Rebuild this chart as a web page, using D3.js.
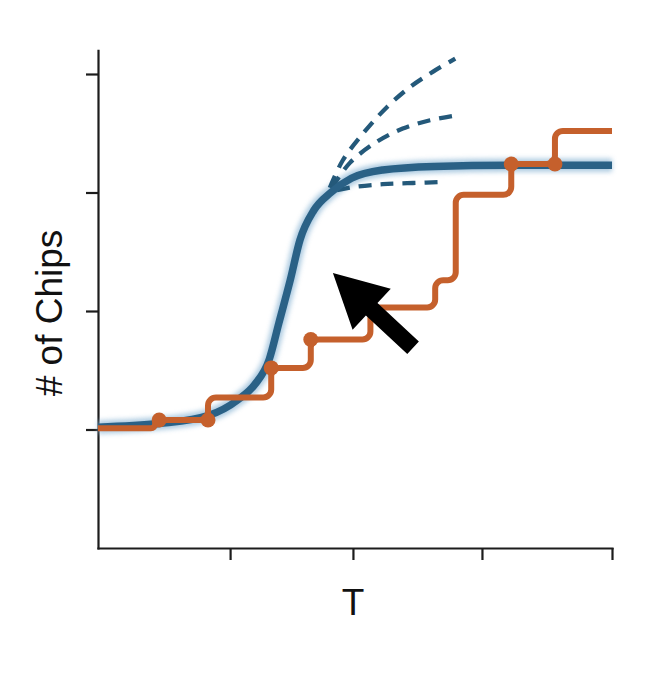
<!DOCTYPE html>
<html>
<head>
<meta charset="utf-8">
<script src="https://cdn.jsdelivr.net/npm/d3@7"></script>
<style>
  html, body { margin: 0; padding: 0; background: #fff; }
  svg { display: block; }
</style>
</head>
<body>
<script>
// ---------------- data ----------------
const xTicks = [25.7, 49.6, 74.7, 100];
const yTicks = [1, 2, 3, 4];

// smooth "average" curve (blue)
const blueX = [0, 11.9, 21.6, 27.2, 30.5, 33.3, 35.2, 37.4, 39.3, 42.0, 45.3, 49.3, 55.4, 65.4, 80.2, 100];
const blueY = [1.02, 1.05, 1.12, 1.25, 1.38, 1.59, 1.90, 2.26, 2.60, 2.85, 3.00, 3.12, 3.19, 3.22, 3.23, 3.23];

// step curve (orange): level boundaries and level values
const stepX = [0, 11.1, 21.4, 33.7, 41.4, 53.0, 65.6, 69.6, 80.4, 88.9, 100];
const stepY = [1.01, 1.08, 1.27, 1.52, 1.76, 2.03, 2.26, 2.98, 3.24, 3.52];

// orange dots
const dotX = [11.9, 21.4, 33.7, 41.4, 80.4, 88.9];
const dotY = [1.08, 1.08, 1.52, 1.76, 3.24, 3.24];

// dashed projections
const dash1X = [45.1, 47.6, 51.6, 56.2, 60.7, 65.2, 69.5];
const dash1Y = [3.04, 3.27, 3.50, 3.72, 3.89, 4.02, 4.13];
const dash2X = [45.5, 49.0, 54.3, 59.3, 64.6, 69.5];
const dash2Y = [3.04, 3.25, 3.43, 3.54, 3.61, 3.65];
const dash3X = [46.5, 50.4, 55.4, 61.3, 67.5];
const dash3Y = [3.02, 3.05, 3.07, 3.08, 3.09];

// arrow annotation: tip and tail
const arrowTip = [45.7, 2.32];
const arrowTail = [61.3, 1.69];

const xLabel = "T";
const yLabel = "# of Chips";

// ---------------- chart ----------------
const W = 659, H = 680;
const svg = d3.select("body").append("svg").attr("width", W).attr("height", H);
svg.append("rect").attr("width", W).attr("height", H).attr("fill", "#fff");

const x = d3.scaleLinear().domain([0, 100]).range([98, 612]);
const y = d3.scaleLinear().domain([0, 4.2]).range([548, 50.3]);

const defs = svg.append("defs");
defs.append("filter").attr("id", "glow").attr("x", "-10%").attr("y", "-10%").attr("width", "120%").attr("height", "120%")
  .append("feGaussianBlur").attr("stdDeviation", 2.5);

const BLUE = "#2a6186";
const ORANGE = "#c5602c";

// axes
const axisColor = "#1c1c1c";
const gx = svg.append("g").attr("transform", `translate(0,${y(0)})`)
  .call(d3.axisBottom(x).tickValues(xTicks).tickSize(12).tickSizeOuter(0).tickFormat(""));
const gy = svg.append("g").attr("transform", `translate(${x(0)},0)`)
  .call(d3.axisLeft(y).tickValues(yTicks).tickSize(12).tickSizeOuter(0).tickFormat(""));
[gx, gy].forEach(g => {
  g.select(".domain").attr("stroke", axisColor).attr("stroke-width", 2.2).attr("stroke-linecap", "square");
  g.selectAll(".tick line").attr("stroke", axisColor).attr("stroke-width", 2.2);
});

// blue curve with glow
const blueData = blueX.map((d, i) => [d, blueY[i]]);
const line = d3.line().x(d => x(d[0])).y(d => y(d[1])).curve(d3.curveMonotoneX);
svg.append("path").attr("d", line(blueData)).attr("fill", "none")
  .attr("stroke", "#8fb8d6").attr("stroke-width", 13).attr("opacity", 0.75).attr("filter", "url(#glow)");

// dashed projections
[[dash1X, dash1Y], [dash2X, dash2Y], [dash3X, dash3Y]].forEach(([xs, ys]) => {
  const pts = xs.map((d, i) => [d, ys[i]]);
  svg.append("path").attr("d", d3.line().x(d => x(d[0])).y(d => y(d[1])).curve(d3.curveCatmullRom)(pts))
    .attr("fill", "none").attr("stroke", "#24597a").attr("stroke-width", 4.3)
    .attr("stroke-dasharray", "13,9");
});

svg.append("path").attr("d", line(blueData)).attr("fill", "none")
  .attr("stroke", BLUE).attr("stroke-width", 7.5).attr("stroke-linecap", "butt");

// orange step path with rounded corners
const verts = [];
stepY.forEach((v, i) => {
  verts.push([x(stepX[i]), y(v)]);
  verts.push([x(stepX[i + 1]), y(v)]);
});
const p = d3.path();
p.moveTo(verts[0][0], verts[0][1]);
for (let i = 1; i < verts.length - 1; i++) {
  const a = verts[i - 1], b = verts[i], c = verts[i + 1];
  const l1 = Math.hypot(b[0] - a[0], b[1] - a[1]);
  const l2 = Math.hypot(c[0] - b[0], c[1] - b[1]);
  const r = Math.min(8, l1 / 2, l2 / 2);
  p.arcTo(b[0], b[1], c[0], c[1], r);
}
p.lineTo(verts[verts.length - 1][0], verts[verts.length - 1][1]);
svg.append("path").attr("d", p.toString()).attr("fill", "none")
  .attr("stroke", ORANGE).attr("stroke-width", 6).attr("stroke-linejoin", "round");

svg.selectAll("circle.dot").data(dotX.map((d, i) => [d, dotY[i]])).enter().append("circle")
  .attr("class", "dot").attr("cx", d => x(d[0])).attr("cy", d => y(d[1])).attr("r", 7.5).attr("fill", ORANGE);

// arrow
(function () {
  const tx = x(arrowTip[0]), ty = y(arrowTip[1]);
  const sx = x(arrowTail[0]), sy = y(arrowTail[1]);
  const ang = Math.atan2(ty - sy, tx - sx);
  const len = Math.hypot(tx - sx, ty - sy);
  const headLen = 53, headHalf = 28, shaftHalf = 8.5;
  const g = svg.append("g").attr("transform", `translate(${sx},${sy}) rotate(${ang * 180 / Math.PI})`);
  g.append("path").attr("fill", "#000").attr("d",
    `M0,${-shaftHalf} L${len - headLen},${-shaftHalf} L${len - headLen},${-headHalf} L${len},0 L${len - headLen},${headHalf} L${len - headLen},${shaftHalf} L0,${shaftHalf} Z`);
})();

// labels
const font = "'Liberation Sans', Arial, Helvetica, sans-serif";
svg.append("text").attr("x", 353).attr("y", 615).attr("text-anchor", "middle")
  .attr("font-family", font).attr("font-size", 37).attr("fill", "#111").text(xLabel);
svg.append("text").attr("transform", "translate(62,313) rotate(-90)").attr("text-anchor", "middle")
  .attr("font-family", font).attr("font-size", 37).attr("fill", "#111").text(yLabel);
</script>
</body>
</html>
